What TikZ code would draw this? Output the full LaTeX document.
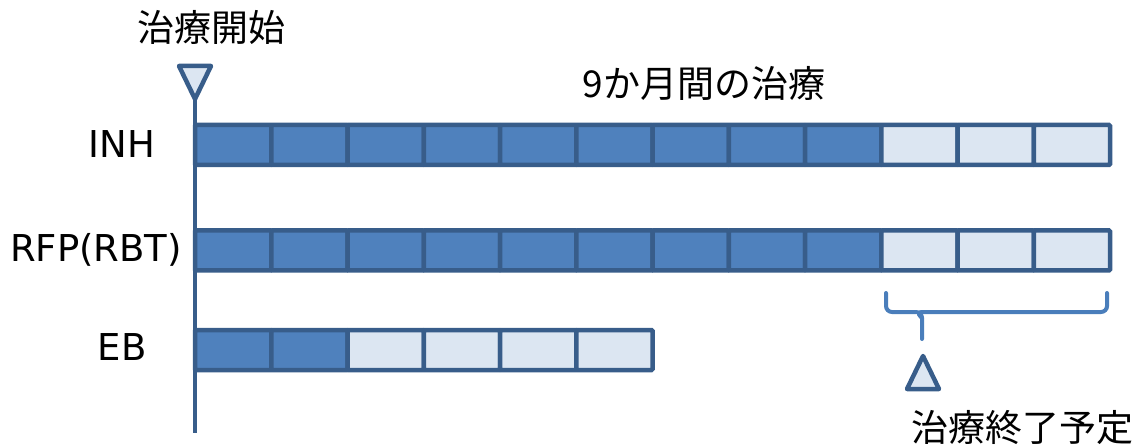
\documentclass[tikz,border=0pt]{standalone}
\usepackage{fontspec}
\newfontfamily\jpfont{Noto Sans CJK JP}
\newfontfamily\latfont{DejaVu Sans}
\definecolor{cellborder}{HTML}{385D8A}
\definecolor{celldark}{HTML}{4F81BD}
\definecolor{celllight}{HTML}{DCE6F2}
\definecolor{bracecol}{HTML}{4A7EBB}
\begin{document}
\begin{tikzpicture}[x=1pt,y=-1pt,
  cell/.style={draw=cellborder,line width=4.5pt,rounded corners=1pt,minimum width=76.25pt,minimum height=40pt,inner sep=0pt,outer sep=0pt},
  dark/.style={cell,fill=celldark},
  light/.style={cell,fill=celllight},
  jtext/.style={font=\jpfont\fontsize{37}{40}\selectfont,inner sep=0pt,text=black},
  ltext/.style={font=\latfont\fontsize{37}{40}\selectfont,inner sep=0pt,text=black},
  marker/.style={draw=cellborder,fill=celllight,line width=4.5pt,line join=round}]
\useasboundingbox (0,0) rectangle (1140,446);
% time axis
\coordinate (axtop) at (195,100);
\coordinate (axbot) at (195,433);
\draw[cellborder,line width=4pt] (axtop) -- (axbot);
% start marker
\draw[marker] (179,66) -- (211,66) -- (195,99) -- cycle;
\node[jtext] (start) at (211,27) {治療開始};
\node[jtext] (nine) at (704,83) {9か月間の治療};
% rows
\node[ltext] (inh) at (122,144) {INH};
\node[ltext] (rfp) at (96,250) {RFP(RBT)};
\node[ltext] (eb) at (122,347) {EB};
\foreach \i in {0,...,11}{
  \ifnum\i<9
    \node[dark] (a\i) at ({195+76.25*(\i+0.5)},145) {};
    \node[dark] (b\i) at ({195+76.25*(\i+0.5)},250.5) {};
  \else
    \node[light] (a\i) at ({195+76.25*(\i+0.5)},145) {};
    \node[light] (b\i) at ({195+76.25*(\i+0.5)},250.5) {};
  \fi
}
\foreach \i in {0,...,5}{
  \ifnum\i<2
    \node[dark] (c\i) at ({195+76.25*(\i+0.5)},350) {};
  \else
    \node[light] (c\i) at ({195+76.25*(\i+0.5)},350) {};
  \fi
}
% brace
\coordinate (brL) at (886,293);
\coordinate (brR) at (1107,293);
\coordinate (brTip) at (922,339);
\draw[bracecol,line width=4pt,line cap=round,rounded corners=6pt]
  (brL) -- (886,312) -- (922,312) -- (brTip);
\draw[bracecol,line width=4pt,line cap=round,rounded corners=6pt]
  (brR) -- (1107,312) -- (916,312) -- (922,318);
% end marker
\draw[marker] (923,356) -- (939,389) -- (907,389) -- cycle;
\node[jtext] (endlbl) at (1022,428) {治療終了予定};
\end{tikzpicture}
\end{document}
